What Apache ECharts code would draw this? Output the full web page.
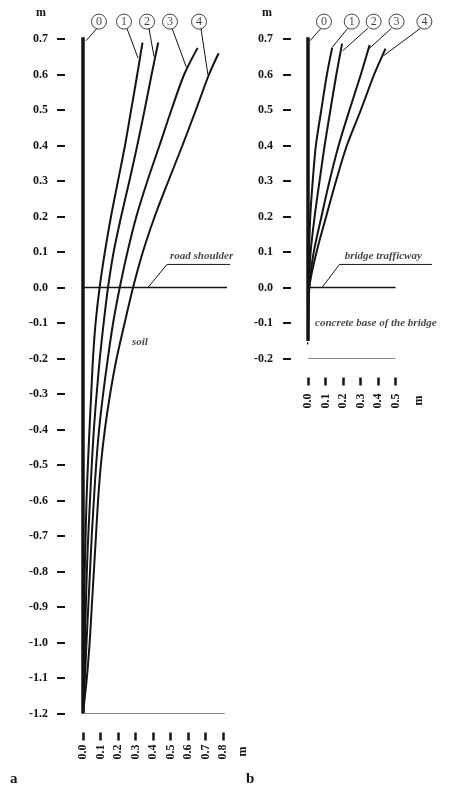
<!DOCTYPE html>
<html><head><meta charset="utf-8">
<script src="https://cdn.jsdelivr.net/npm/echarts@6/dist/echarts.min.js"></script>
<style>html,body{margin:0;padding:0;background:#fff}#c{width:454px;height:802px}</style>
</head><body><div id="c"></div>
<script>
// ---------- Panel a (road shoulder / soil) ----------
const depthA = [-1.2,-1.1,-1.0,-0.9,-0.8,-0.7,-0.6,-0.5,-0.4,-0.3,-0.2,-0.1,0.0,0.1,0.2,0.3,0.4,0.5,0.6];
const topA = [0.69, 0.69, 0.675, 0.66];
const curveA1 = [0,0.003,0.005,0.007,0.010,0.015,0.020,0.028,0.037,0.047,0.057,0.072,0.095,0.125,0.160,0.200,0.240,0.275,0.310,0.340];
const curveA2 = [0,0.006,0.011,0.016,0.022,0.030,0.040,0.050,0.062,0.078,0.096,0.118,0.143,0.175,0.218,0.265,0.310,0.352,0.392,0.430];
const curveA3 = [0,0.011,0.020,0.030,0.040,0.050,0.062,0.075,0.092,0.115,0.142,0.172,0.210,0.254,0.305,0.368,0.437,0.505,0.578,0.655];
const curveA4 = [0,0.022,0.038,0.050,0.062,0.074,0.086,0.102,0.125,0.155,0.192,0.238,0.286,0.342,0.410,0.488,0.568,0.645,0.720,0.775];
const pileA = [-1.2, 0.705];
const xTickLabelsA = [0,0.1,0.2,0.3,0.4,0.5,0.6,0.7,0.8];
const xRangeA = [0, 0.85];
const yRangeA = [-1.2, 0.7];

// ---------- Panel b (bridge trafficway) ----------
const depthB = [-0.15, 0.0, 0.1, 0.2, 0.3, 0.4, 0.5, 0.6];
const topB = [0.675, 0.687, 0.683, 0.673];
const curveB1 = [0,0.003,0.006,0.013,0.027,0.045,0.076,0.108,0.138];
const curveB2 = [0,0.004,0.015,0.038,0.066,0.095,0.128,0.162,0.195];
const curveB3 = [0,0.006,0.033,0.077,0.123,0.175,0.237,0.302,0.352];
const curveB4 = [0,0.008,0.049,0.104,0.160,0.222,0.302,0.378,0.443];
const pileB = [-0.15, 0.705];
const xTickLabelsB = [0,0.1,0.2,0.3,0.4,0.5];
const xRangeB = [0, 0.7];
const yRangeB = [-0.2, 0.7];

// ---------- annotations (data units) ----------
const circleNames = ['0','1','2','3','4'];
const circleA = [[0.091,0.749],[0.234,0.749],[0.366,0.749],[0.497,0.749],[0.663,0.749]];
const leaderA = [[[0.08,0.73],[0.017,0.695]],[[0.251,0.73],[0.314,0.647]],[[0.377,0.73],[0.406,0.65]],[[0.509,0.73],[0.594,0.616]],[[0.674,0.73],[0.714,0.599]]];
const circleB = [[0.091,0.749],[0.25,0.749],[0.375,0.749],[0.506,0.749],[0.665,0.749]];
const leaderB = [[[0.074,0.73],[0.011,0.695]],[[0.227,0.73],[0.136,0.675]],[[0.341,0.73],[0.199,0.667]],[[0.477,0.73],[0.347,0.672]],[[0.642,0.73],[0.432,0.653]]];
const groundA = [[-0.046,0],[0.823,0]];
const baseA = [[0,-1.2],[0.81,-1.2]];
const groundB = [[-0.045,0],[0.5,0]];
const baseB = [[0,-0.2],[0.5,-0.2]];
const calloutA = [[0.371,0],[0.48,0.065],[0.84,0.065]];
const calloutB = [[0.08,0],[0.18,0.065],[0.733,0.065]];
const textsA = [{t:'road shoulder', p:[0.497,0.088], w:'bold'}, {t:'soil', p:[0.28,-0.153], w:'bold'}];
const textsB = [{t:'bridge trafficway', p:[0.21,0.088], w:'bold'}, {t:'concrete base of the bridge', p:[0.04,-0.10], w:'bold'}];

const FONT = 'Liberation Serif';
const INK = '#141414';
const PX_PER_UNIT_X = 175;   // 0.1 m = 17.5 px
const PX_PER_UNIT_Y = 355;   // 0.1 m = 35.5 px

function buildCurve(xs, depth, top) {
  const pts = depth.map((d, i) => [xs[i], d]);
  pts.push([xs[xs.length - 1], top]);
  return pts;
}
function fmt(v) { return Math.abs(v) < 1e-9 ? '0.0' : v.toFixed(1); }

function lineS(data, gi, width, color, smooth) {
  return { type:'line', xAxisIndex:gi, yAxisIndex:gi, data:data, symbol:'none', clip:false,
    smooth: smooth ? 0.3 : false,
    lineStyle:{ color: color || INK, width: width }, silent:true, z: 3 };
}
function circleS(pos, gi) {
  return { type:'scatter', xAxisIndex:gi, yAxisIndex:gi, clip:false, symbol:'circle', symbolSize:15,
    itemStyle:{ color:'#fff', borderColor:INK, borderWidth:1 },
    label:{ show:true, position:'inside', formatter:(p)=>circleNames[p.dataIndex], fontFamily:FONT, fontSize:12, color:INK },
    data: pos, z: 5, silent:true };
}
function textS(items, gi) {
  return { type:'scatter', xAxisIndex:gi, yAxisIndex:gi, clip:false, symbolSize:0,
    data: items.map(o => ({ value:o.p, name:o.t, label:{fontWeight:o.w} })),
    label:{ show:true, position:'right', distance:0, formatter:'{b}', fontFamily:FONT, fontStyle:'italic', fontSize:11, color:INK },
    z: 6, silent:true };
}
function yAx(gi, range, offset, margin) {
  return { gridIndex:gi, type:'value', min:range[0], max:range[1], interval:0.1, offset:offset,
    axisLine:{show:false, onZero:false}, splitLine:{show:false},
    axisTick:{show:true, length:8, lineStyle:{color:INK, width:2}},
    axisLabel:{margin:margin, formatter:fmt, fontFamily:FONT, fontSize:12, fontWeight:'bold', color:INK},
    name:'m', nameLocation:'end', nameGap:20,
    nameTextStyle:{fontFamily:FONT, fontSize:12, fontWeight:'bold', color:INK, align:'right', padding:[0,19,0,0]} };
}
function xAx(gi, range, ticks, margin, nameGap, nameShift) {
  return { gridIndex:gi, type:'value', min:range[0], max:range[1], interval:0.1, position:'bottom', offset:19,
    axisLine:{show:false, onZero:false}, splitLine:{show:false},
    axisTick:{show:true, length:8, customValues:ticks, lineStyle:{color:INK, width:2.5}},
    axisLabel:{rotate:90, margin:margin, customValues:ticks, formatter:fmt, fontFamily:FONT, fontSize:12, fontWeight:'bold', color:INK},
    name:'m', nameLocation:'end', nameGap:nameGap, nameRotate:90,
    nameTextStyle:{fontFamily:FONT, fontSize:12, fontWeight:'bold', color:INK, align:'right', verticalAlign:'middle', padding:[0,nameShift,0,0]} };
}

const series = [];
// panel a
series.push(lineS(pileA.map(y=>[0,y]), 0, 3.5));
[curveA1,curveA2,curveA3,curveA4].forEach((c,i)=>series.push(lineS(buildCurve(c, depthA, topA[i]), 0, 2, INK, true)));
series.push(lineS(groundA, 0, 1.6));
series.push(lineS(baseA, 0, 1, '#8a8a8a'));
series.push(lineS(calloutA, 0, 1));
leaderA.forEach(l=>series.push(lineS(l, 0, 1)));
series.push(circleS(circleA, 0));
series.push(textS(textsA, 0));
// panel b
series.push(lineS(pileB.map(y=>[0,y]), 1, 3.5));
series.push(lineS([[-0.028,-0.14],[0,-0.16]], 1, 1.5));
[curveB1,curveB2,curveB3,curveB4].forEach((c,i)=>series.push(lineS(buildCurve(c, depthB, topB[i]), 1, 2, INK, true)));
series.push(lineS(groundB, 1, 1.6));
series.push(lineS(baseB, 1, 1, '#8a8a8a'));
series.push(lineS(calloutB, 1, 1));
leaderB.forEach(l=>series.push(lineS(l, 1, 1)));
series.push(circleS(circleB, 1));
series.push(textS(textsB, 1));

const spanA = xRangeA[1]-xRangeA[0], spanB = xRangeB[1]-xRangeB[0];
const chart = echarts.init(document.getElementById('c'), null, {renderer:'canvas'});
chart.setOption({
  backgroundColor:'#fff',
  animation:false,
  grid:[
    {left:83, top:39, width:spanA*PX_PER_UNIT_X, height:(yRangeA[1]-yRangeA[0])*PX_PER_UNIT_Y, outerBoundsMode:'none'},
    {left:308, top:39, width:spanB*PX_PER_UNIT_X, height:(yRangeB[1]-yRangeB[0])*PX_PER_UNIT_Y, outerBoundsMode:'none'}
  ],
  xAxis:[ xAx(0, xRangeA, xTickLabelsA, 12, 11, 14), xAx(1, xRangeB, xTickLabelsB, 16, -12, 18) ],
  yAxis:[ yAx(0, yRangeA, 18, 17), yAx(1, yRangeB, 17, 18) ],
  graphic:[
    {type:'text', left:10, top:772, style:{text:'a', font:'bold 15px "Liberation Serif"', fill:INK}},
    {type:'text', left:246, top:772, style:{text:'b', font:'bold 15px "Liberation Serif"', fill:INK}}
  ],
  series: series
});
</script></body></html>
